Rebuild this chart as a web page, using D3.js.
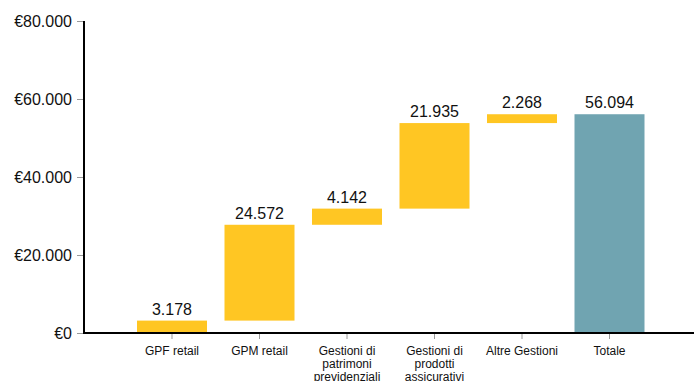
<!DOCTYPE html>
<html>
<head>
<meta charset="utf-8">
<script src="https://cdn.jsdelivr.net/npm/d3@7"></script>
<style>
  html, body { margin: 0; padding: 0; background: #fff; }
  svg { display: block; font-family: "Liberation Sans", Arial, sans-serif; }
</style>
</head>
<body>
<svg id="chart" width="694" height="381"></svg>
<script>
// Waterfall of assets under management by product line (€ thousands)
const categories = ["GPF retail", "GPM retail", "Gestioni di patrimoni previdenziali",
                    "Gestioni di prodotti assicurativi", "Altre Gestioni", "Totale"];
const increments = [3178, 24572, 4142, 21935, 2268];
const totalValue = 56094;
const yTicks = [0, 20000, 40000, 60000, 80000];

const it = d3.formatLocale({ decimal: ",", thousands: ".", grouping: [3], currency: ["€", ""] });
const fmtEuro = it.format("$,.0f");
const fmtNum = it.format(",.0f");

// Build floating segments: each step starts where the previous ended
let running = 0;
const bars = increments.map((v, i) => {
  const b = { cat: categories[i], start: running, end: running + v, value: v, total: false };
  running += v;
  return b;
});
bars.push({ cat: categories[5], start: 0, end: totalValue, value: totalValue, total: true });

const svg = d3.select("#chart");
const axisX = 84, baseY = 333, topY = 21;

const x = d3.scaleBand().domain(categories).range([102, 679.5])
  .paddingInner(0.2).paddingOuter(0.4);
const y = d3.scaleLinear().domain([0, 80000]).range([baseY, topY]);

// Bars
svg.append("g").selectAll("rect").data(bars).join("rect")
  .attr("x", d => x(d.cat))
  .attr("width", x.bandwidth())
  .attr("y", d => y(Math.max(d.start, d.end)))
  .attr("height", d => Math.abs(y(d.start) - y(d.end)))
  .attr("fill", d => d.total ? "#70a4b1" : "#ffc623");

// Value labels
svg.append("g").selectAll("text").data(bars).join("text")
  .attr("x", d => x(d.cat) + x.bandwidth() / 2)
  .attr("y", d => y(Math.max(d.start, d.end)) - 6)
  .attr("text-anchor", "middle")
  .attr("font-size", 16)
  .attr("fill", "#111")
  .text(d => fmtNum(d.value));

// Y axis
const yAxis = svg.append("g").attr("transform", `translate(${axisX},0)`)
  .call(d3.axisLeft(y).tickValues(yTicks).tickFormat(fmtEuro).tickSize(7).tickPadding(5));
yAxis.select(".domain").remove();
yAxis.selectAll(".tick line").attr("stroke", "#999");
yAxis.selectAll(".tick text").attr("font-size", 16).attr("fill", "#111")
  .attr("font-family", "'Liberation Sans', Arial, sans-serif");
svg.append("line").attr("x1", axisX).attr("x2", axisX).attr("y1", topY).attr("y2", baseY)
  .attr("stroke", "#000").attr("stroke-width", 2);

// X axis
const xAxis = svg.append("g").attr("transform", `translate(0,${baseY})`)
  .call(d3.axisBottom(x).tickSize(6).tickPadding(6));
xAxis.select(".domain").remove();
xAxis.selectAll(".tick line").attr("stroke", "#999");
xAxis.selectAll(".tick text").remove();
svg.append("line").attr("x1", axisX - 1).attr("x2", 694).attr("y1", baseY).attr("y2", baseY)
  .attr("stroke", "#000").attr("stroke-width", 2);

// Wrapped category labels
function wrapWords(label) {
  const words = label.split(" ");
  const lines = [];
  let cur = "";
  const maxChars = 14;
  words.forEach(w => {
    const next = cur ? cur + " " + w : w;
    if (next.length > maxChars && cur) { lines.push(cur); cur = w; } else { cur = next; }
  });
  if (cur) lines.push(cur);
  return lines;
}
const labelG = svg.append("g");
categories.forEach(c => {
  const t = labelG.append("text")
    .attr("x", x(c) + x.bandwidth() / 2)
    .attr("y", 355)
    .attr("text-anchor", "middle")
    .attr("font-size", 12)
    .attr("fill", "#111");
  wrapWords(c).forEach((ln, i) => {
    t.append("tspan").attr("x", x(c) + x.bandwidth() / 2).attr("dy", i === 0 ? 0 : 13).text(ln);
  });
});
</script>
</body>
</html>
